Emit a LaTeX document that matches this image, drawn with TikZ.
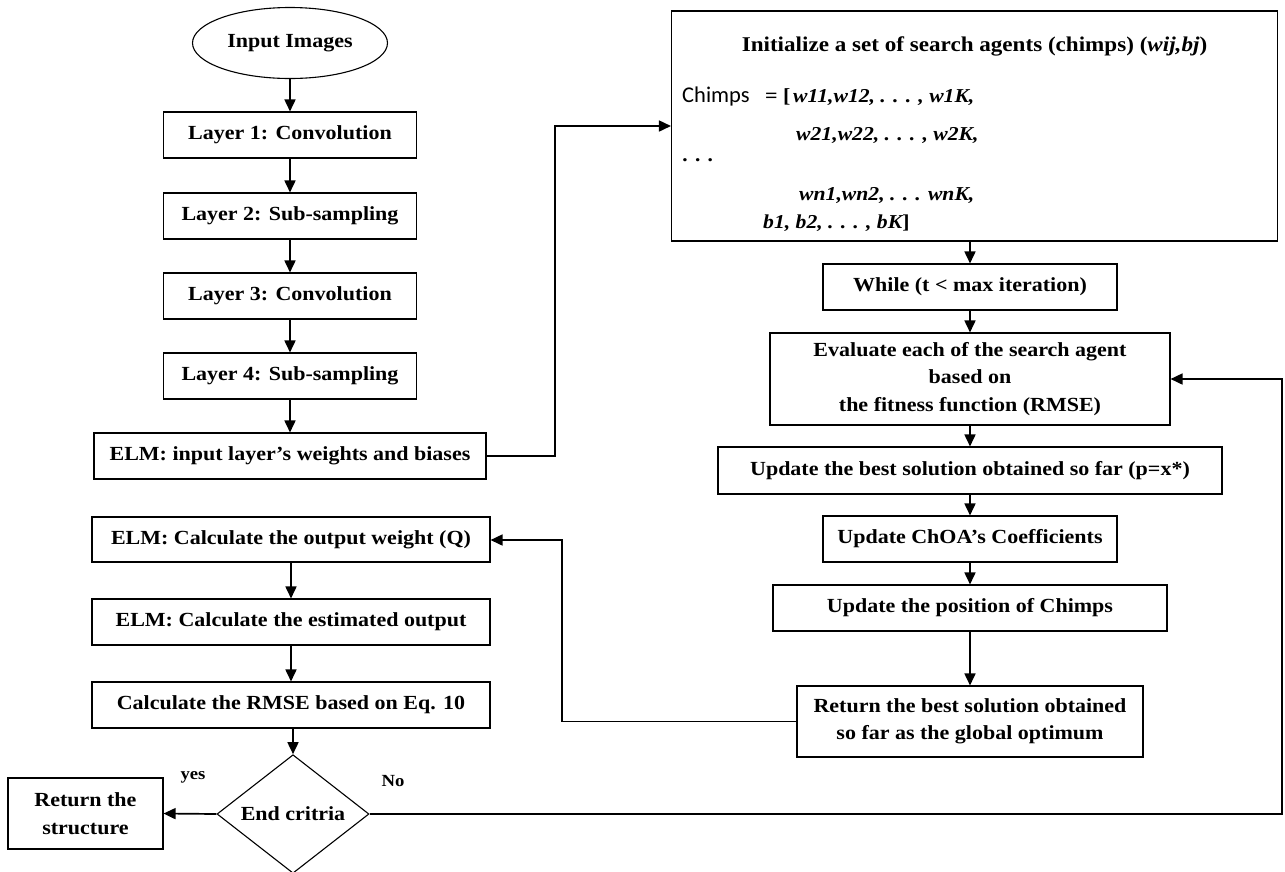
\documentclass[tikz,border=0pt]{standalone}
\usepackage{fontspec}
\setmainfont[FakeStretch=1.1]{Liberation Serif}
\newfontfamily\chimpfont{Carlito}
\usetikzlibrary{shapes.geometric,arrows.meta}
\begin{document}
\begin{tikzpicture}[x=1pt,y=-1pt,
  box/.style={draw, line width=1.1pt, font=\bfseries\fontsize{20}{27.5}\selectfont, inner sep=0pt, align=center},
  arr/.style={line width=1.7pt, -{Triangle[length=12pt,width=11pt]}},
  txt/.style={inner sep=0pt, font=\bfseries\fontsize{20}{27.5}\selectfont},
  ttl/.style={inner sep=0pt, font=\bfseries\fontsize{21}{27.5}\selectfont},
  lbl/.style={inner sep=0pt, font=\bfseries\fontsize{17}{20}\selectfont},
  itx/.style={inner sep=0pt, font=\bfseries\itshape\fontsize{19.7}{24}\selectfont}]
\useasboundingbox[fill=white] (0,0) rectangle (1285,871);

% left column
\node[box, ellipse, minimum width=195, minimum height=71] (inp) at (290,43) {Input Images};
\node[box, minimum width=253, minimum height=46] (l1) at (290,135) {Layer 1: Convolution};
\node[box, minimum width=253, minimum height=46] (l2) at (290,216) {Layer 2: Sub-sampling};
\node[box, minimum width=253, minimum height=46] (l3) at (290,296) {Layer 3: Convolution};
\node[box, minimum width=253, minimum height=46] (l4) at (290,376) {Layer 4: Sub-sampling};
\node[box, minimum width=392, minimum height=46] (elmin) at (290,456) {ELM: input layer’s weights and biases};
\node[box, minimum width=398, minimum height=45] (elmq) at (291,539.5) {ELM: Calculate the output weight (Q)};
\node[box, minimum width=398, minimum height=46] (elmest) at (291,622) {ELM: Calculate the estimated output};
\node[box, minimum width=398, minimum height=46] (rmse) at (291,705) {Calculate the RMSE based on Eq. 10};
\node[box, diamond, minimum width=152, minimum height=114] (dec) at (293,814) {End critria};
\node[box, minimum width=155, minimum height=71] (rs) at (85.5,813.5) {Return the\\structure};
\node[lbl] (yes) at (193,777) {yes};
\node[lbl] (no) at (393,781) {No};

% right column
\node[draw, line width=1.1pt, minimum width=606, minimum height=230, inner sep=0pt] (big) at (974.5,126) {};
\node[ttl] (initt) at (974.5,46) {Initialize a set of search agents (chimps) (\textit{wij,bj})};
\node[inner sep=0pt, anchor=west, font=\chimpfont\fontsize{22.5}{26}\selectfont] (chimps) at (682,96) {Chimps};
\node[txt, anchor=west] (eqb) at (765,97) {= [};
\node[itx, anchor=west] (row1) at (793,97) {w11,w12, . . . , w1K,};
\node[itx, anchor=west] (row2) at (796,135) {w21,w22, . . . , w2K,};
\node[itx, anchor=west] (dots) at (683,160) {. . .};
\node[itx, anchor=west] (row3) at (799,195) {wn1,wn2, . . . wnK,};
\node[itx, anchor=west] (row4) at (763,223) {b1, b2, . . . , bK\upshape]};

\node[box, minimum width=294, minimum height=46] (while) at (970,287) {While (t < max iteration)};
\node[box, minimum width=400, minimum height=92] (eval) at (970,379) {Evaluate each of the search agent\\based on\\the fitness function (RMSE)};
\node[box, minimum width=504, minimum height=47] (best) at (970,470.5) {Update the best solution obtained so far (p=x*)};
\node[box, minimum width=294, minimum height=46] (choa) at (970,539) {Update ChOA’s Coefficients};
\node[box, minimum width=394, minimum height=46] (pos) at (970,608) {Update the position of Chimps};
\node[box, minimum width=346, minimum height=71] (ret) at (970,721.5) {Return the best solution obtained\\so far as the global optimum};

% connectors
\coordinate (k1) at (555,126);
\coordinate (k2) at (562,540);
\coordinate (k3) at (1282,379);

\draw[arr] (inp) -- (l1);
\draw[arr] (l1) -- (l2);
\draw[arr] (l2) -- (l3);
\draw[arr] (l3) -- (l4);
\draw[arr] (l4) -- (elmin);
\draw[arr] (elmin.east) -| (k1) -- (k1 -| big.west);
\draw[arr] (while.north |- big.south) -- (while.north);
\draw[arr] (while) -- (eval);
\draw[arr] (eval) -- (best);
\draw[arr] (best) -- (choa);
\draw[arr] (choa) -- (pos);
\draw[arr] (pos) -- (ret);
\draw[arr] (ret.west) -| (k2) -- (k2 -| elmq.east);
\draw[arr] (elmq) -- (elmest);
\draw[arr] (elmest) -- (rmse);
\draw[arr] (rmse.south -| dec.north) -- (dec.north);
\draw[arr] (dec.west) -- (rs.east);
\draw[arr] (dec.east) -| (k3) -- (k3 -| eval.east);
\end{tikzpicture}
\end{document}
